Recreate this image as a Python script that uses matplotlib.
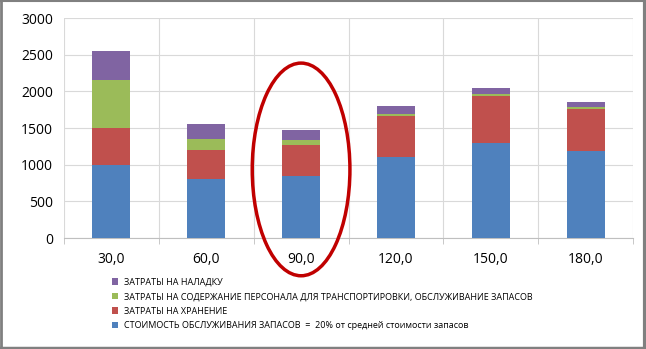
import numpy as np
import matplotlib
matplotlib.use('Agg')
import matplotlib.pyplot as plt
from matplotlib.patches import Ellipse, Patch
from matplotlib.lines import Line2D

plt.rcParams['font.family'] = ['Open Sans', 'DejaVu Sans']

# data
periods = ['30,0', '60,0', '90,0', '120,0', '150,0', '180,0']
service_cost = [1000, 800, 850, 1100, 1300, 1180]   # blue
storage_cost = [500, 400, 425, 560, 640, 585]       # red
staff_cost = [650, 150, 65, 35, 25, 20]             # green
setup_cost = [400, 210, 135, 105, 85, 65]           # purple

labels = [
    'СТОИМОСТЬ ОБСЛУЖИВАНИЯ ЗАПАСОВ  =  20% от средней стоимости запасов',
    'ЗАТРАТЫ НА ХРАНЕНИЕ',
    'ЗАТРАТЫ НА СОДЕРЖАНИЕ ПЕРСОНАЛА ДЛЯ ТРАНСПОРТИРОВКИ, ОБСЛУЖИВАНИЕ ЗАПАСОВ',
    'ЗАТРАТЫ НА НАЛАДКУ',
]
colors = ['#4F81BD', '#C0504D', '#9BBB59', '#8064A2']

fig = plt.figure(figsize=(6.46, 3.49), dpi=100)
ax = fig.add_axes([64 / 646, 1 - 238 / 349, (633 - 64) / 646, (238 - 18) / 349])

x = np.arange(len(periods))
series = [service_cost, storage_cost, staff_cost, setup_cost]
bottom = np.zeros(len(periods))
for vals, col, lab in zip(series, colors, labels):
    ax.bar(x, vals, 0.4, bottom=bottom, color=col, label=lab, zorder=3)
    bottom += np.array(vals)

ax.set_xlim(-0.5, len(periods) - 0.5)
ax.set_ylim(0, 3000)
ax.set_yticks(np.arange(0, 3001, 500))
ax.set_xticks(x)
ax.set_xticklabels(periods)
ax.set_xticks(np.arange(-0.5, len(periods)), minor=True)

ax.grid(True, axis='y', color='#d9d9d9', lw=0.8, zorder=0)
ax.grid(True, axis='x', which='minor', color='#d9d9d9', lw=0.8, zorder=0)
for s in ['left', 'right', 'top']:
    ax.spines[s].set_visible(False)
ax.spines['bottom'].set_color('#bfbfbf')
ax.tick_params(axis='x', which='major', length=0, pad=10, labelsize=10)
ax.tick_params(axis='x', which='minor', length=4, color='#bfbfbf')
ax.tick_params(axis='y', length=0, pad=8, labelsize=10)

# red ellipse highlighting the 90-day bar
ell = Ellipse((2, 935), 1.03, 2900, fill=False, edgecolor='#C00000', lw=2.5,
              clip_on=False, zorder=5)
ax.add_patch(ell)

handles = [Patch(facecolor=c) for c in colors][::-1]
fig.legend(handles, labels[::-1], loc='upper left',
           bbox_to_anchor=(107 / 646, 1 - 273 / 349), frameon=False,
           fontsize=6.5, handlelength=0.75, handleheight=0.75, handletextpad=0.6,
           labelspacing=0.62, borderpad=0)

# picture frame
frame = '#808080'
fig.add_artist(Line2D([0.5 / 646] * 2, [0, 1], transform=fig.transFigure, color=frame, lw=2))
fig.add_artist(Line2D([0, 1], [1 - 0.5 / 349] * 2, transform=fig.transFigure, color=frame, lw=1.5))
fig.add_artist(Line2D([1 - 1.5 / 646] * 2, [0, 1], transform=fig.transFigure, color=frame, lw=3))
fig.add_artist(Line2D([0, 1], [1.2 / 349] * 2, transform=fig.transFigure, color=frame, lw=2.5))

fig.savefig('out.png', dpi=100)
